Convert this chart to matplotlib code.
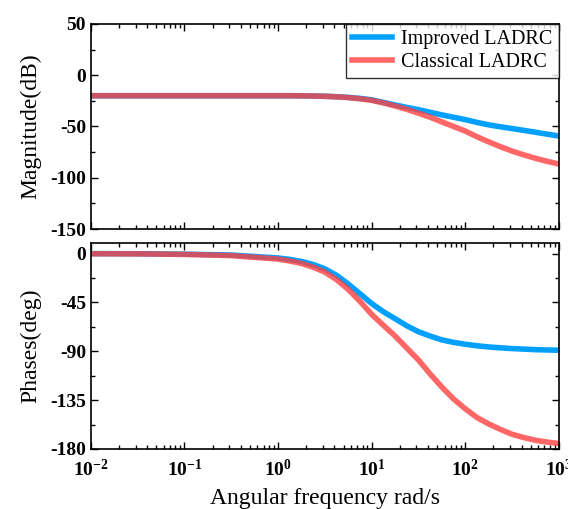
import matplotlib
matplotlib.use("Agg")
import matplotlib.pyplot as plt

# values (half decades below 1 rad/s, eighth decades above)
freq = [0.01, 0.0316, 0.1, 0.316, 1.0, 1.33, 1.78, 2.37, 3.16, 4.22, 5.62, 7.5,
        10.0, 13.3, 17.8, 23.7, 31.6, 42.2, 56.2, 75.0, 100.0, 133.0, 178.0,
        237.0, 316.0, 422.0, 562.0, 750.0, 1000.0]

mag_improved = [-20, -20, -20, -20, -20, -20, -20.1, -20.3, -20.5, -21, -21.6, -22.6,
                -24, -26.5, -29, -31.4, -33.6, -36.2, -38.7, -41, -43.3, -46, -48.4,
                -50.3, -52, -53.8, -55.6, -57.5, -59.3]
mag_classical = [-20, -20, -20, -20, -20, -20, -20.1, -20.3, -20.6, -21.1, -21.8, -23,
                 -24.5, -27, -30, -33.3, -37, -41, -45.5, -50, -54.5, -60, -65,
                 -69.7, -74, -77.7, -81, -84, -86.6]

phase_improved = [0, -0.1, -0.5, -1.3, -4, -5.3, -7.2, -10, -14, -20, -28, -37,
                  -46, -53.5, -60, -66.5, -72, -76, -79.5, -81.8, -83.5, -84.9, -86,
                  -86.8, -87.5, -88, -88.5, -88.8, -89]
phase_classical = [-0.1, -0.2, -0.7, -1.8, -5, -6.8, -9, -12.5, -17, -24, -33, -44,
                   -56, -66, -76, -87, -98, -111, -123, -134, -143, -151, -157,
                   -162, -166.5, -169.5, -172, -173.7, -175]

mag_ticks = [50, 0, -50, -100, -150]
phase_ticks = [0, -45, -90, -135, -180]
x_ticks = [1e-2, 1e-1, 1e0, 1e1, 1e2, 1e3]
x_labels = [r'$\mathbf{10^{-2}}$', r'$\mathbf{10^{-1}}$', r'$\mathbf{10^{0}}$',
            r'$\mathbf{10^{1}}$', r'$\mathbf{10^{2}}$', r'$\mathbf{10^{3}}$']

plt.rcParams['font.family'] = 'Liberation Serif'
plt.rcParams['mathtext.fontset'] = 'custom'
plt.rcParams['mathtext.bf'] = 'Liberation Serif:bold'
plt.rcParams['mathtext.rm'] = 'Liberation Serif:bold'

blue = '#00A0FF'
red = '#FF4040'


def style_axes(ax):
    ax.set_xscale('log')
    ax.set_xlim(1e-2, 1e3)
    ax.tick_params(which='both', direction='in', top=True, right=True, width=1)
    ax.tick_params(which='major', length=5, labelsize=14)
    ax.tick_params(which='minor', length=3)
    for s in ax.spines.values():
        s.set_linewidth(1.2)


fig = plt.figure(figsize=(5.68, 5.09), dpi=100)
ax1 = fig.add_axes([0.160, 0.550, 0.824, 0.403])
ax2 = fig.add_axes([0.160, 0.118, 0.824, 0.405])

ax1.plot(freq, mag_improved, color=blue, lw=4, label='Improved LADRC')
ax1.plot(freq, mag_classical, color=red, lw=4, alpha=0.8, label='Classical LADRC')
style_axes(ax1)
ax1.set_ylim(-150, 50)
ax1.set_yticks(mag_ticks)
ax1.set_yticklabels([str(v) for v in mag_ticks], fontweight='bold')
ax1.set_yticks([25, -25, -75, -125], minor=True)
ax1.set_xticks(x_ticks)
ax1.set_xticklabels([])
ax1.set_ylabel('Magnitude(dB)', fontsize=17, labelpad=6)
leg = ax1.legend(loc='upper right', fontsize=14.5, frameon=True, fancybox=False,
                 borderaxespad=0, handlelength=2.0, handletextpad=0.45,
                 borderpad=0.3, labelspacing=0.2)
leg.get_frame().set_edgecolor('black')
leg.get_frame().set_linewidth(1.0)

ax2.plot(freq, phase_improved, color=blue, lw=4)
ax2.plot(freq, phase_classical, color=red, lw=4, alpha=0.8)
style_axes(ax2)
ax2.set_ylim(-180, 10)
ax2.set_yticks(phase_ticks)
ax2.set_yticklabels([str(v) for v in phase_ticks], fontweight='bold')
ax2.set_yticks([-22.5, -67.5, -112.5, -157.5], minor=True)
ax2.set_xticks(x_ticks)
ax2.set_xticklabels(x_labels)
ax2.tick_params(axis='x', which='major', pad=7)
ax2.set_ylabel('Phases(deg)', fontsize=17, labelpad=6)
ax2.set_xlabel('Angular frequency rad/s', fontsize=17, labelpad=6)

fig.align_ylabels([ax1, ax2])
fig.savefig('out.png', dpi=100)
